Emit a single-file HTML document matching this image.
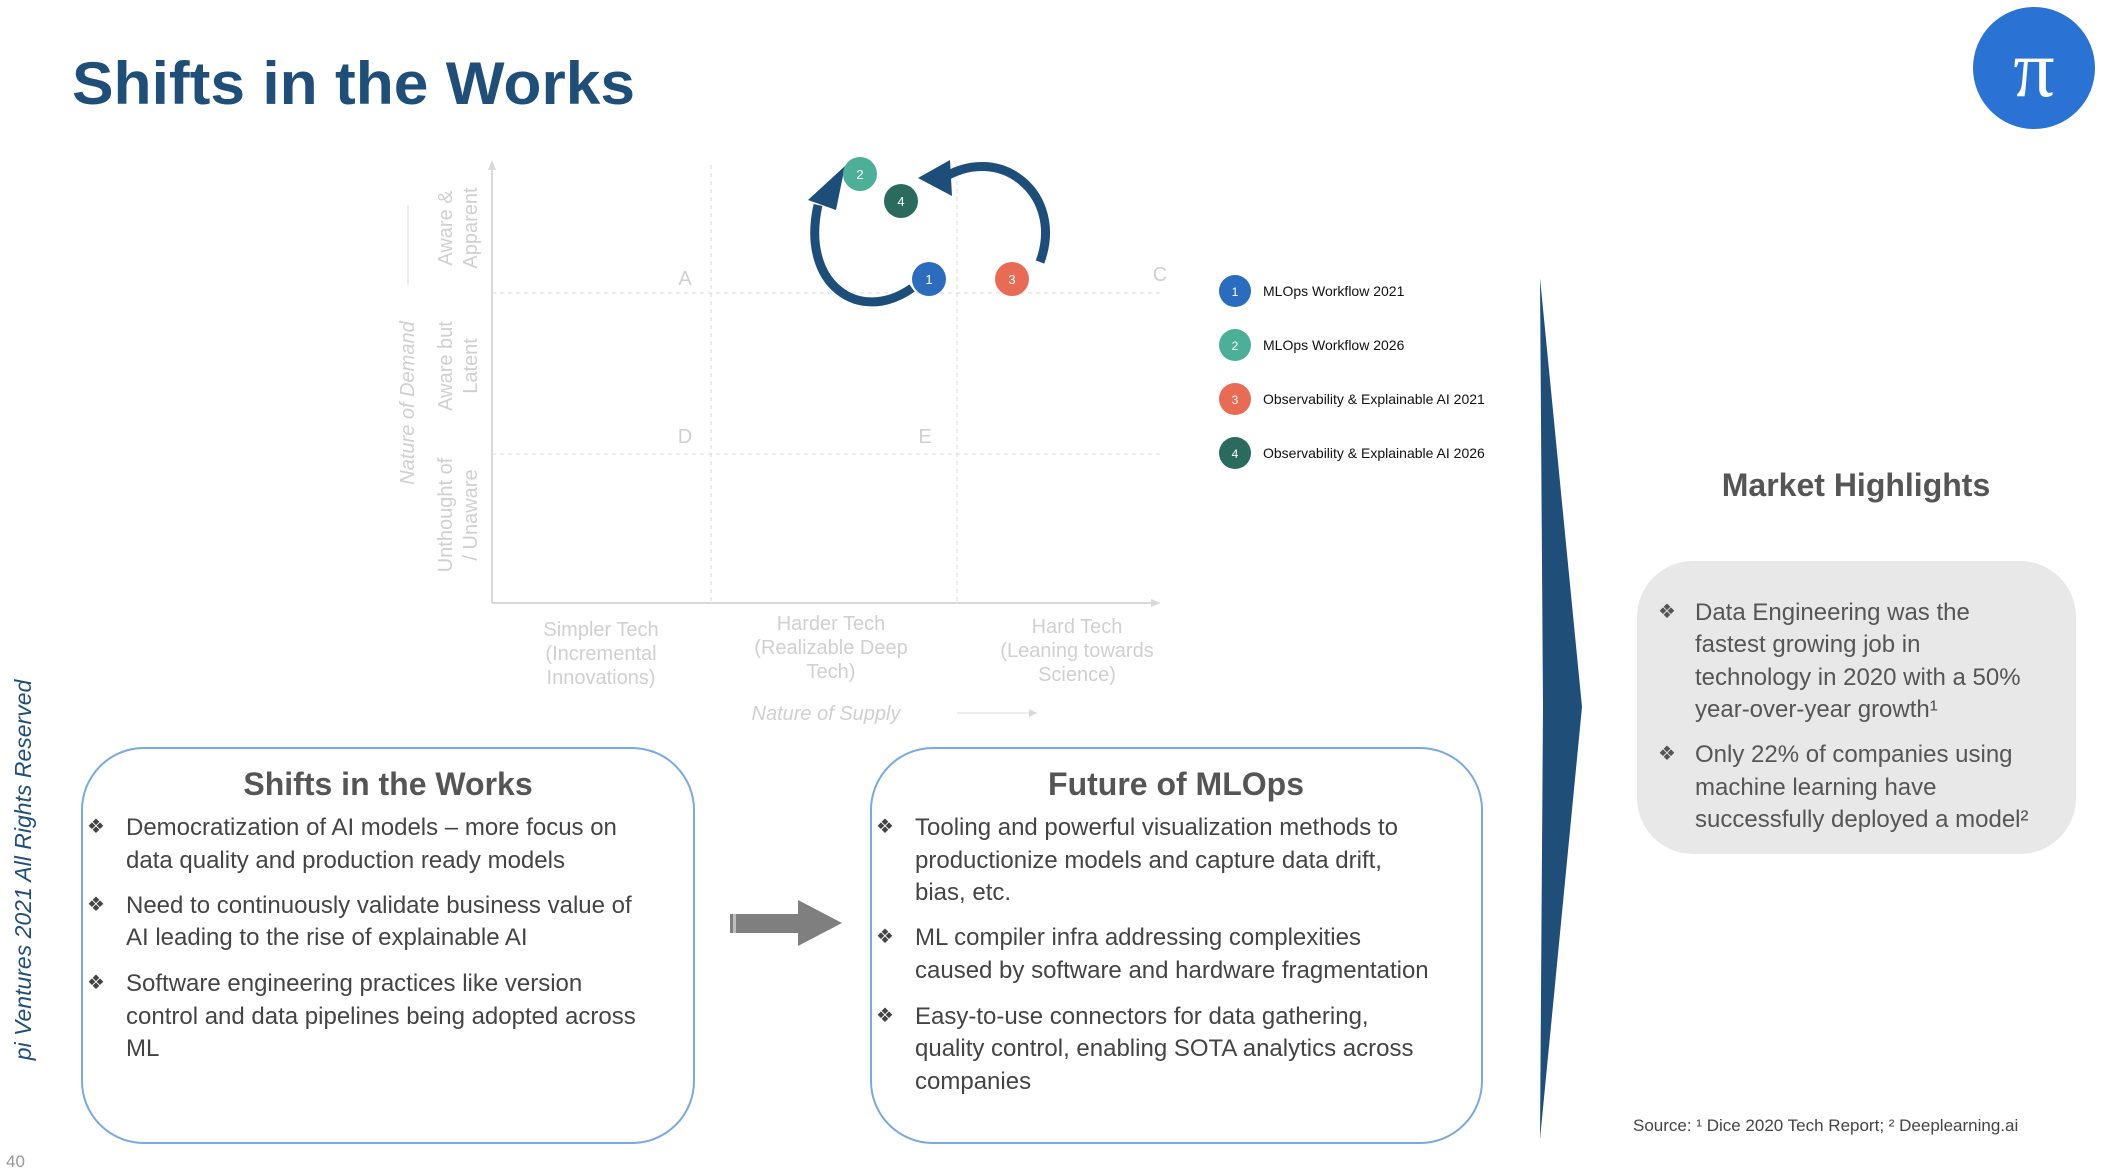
<!DOCTYPE html>
<html><head><meta charset="utf-8"><style>
html,body{margin:0;padding:0;background:#fff;}
svg{display:block;font-family:"Liberation Sans",sans-serif;}
</style></head><body>
<svg width="2106" height="1174" viewBox="0 0 2106 1174" xmlns="http://www.w3.org/2000/svg">
<text x="72" y="104" font-size="60" font-weight="bold" fill="#1f4e79" textLength="563" lengthAdjust="spacingAndGlyphs">Shifts in the Works</text>
<circle cx="2034" cy="68" r="61" fill="#2a73d5"/>
<text x="2034" y="96" font-size="82" fill="#fff" text-anchor="middle" font-family="Liberation Serif,serif">π</text>

<!-- chart axes -->
<g stroke="#d9d9d9" fill="none">
<line x1="492" y1="165" x2="492" y2="603" stroke-width="2"/>
<line x1="492" y1="603" x2="1157" y2="603" stroke-width="2"/>
<line x1="711" y1="165" x2="711" y2="603" stroke-dasharray="4,4"/>
<line x1="957" y1="165" x2="957" y2="603" stroke-dasharray="4,4"/>
<line x1="492" y1="293" x2="1160" y2="293" stroke-dasharray="4,4"/>
<line x1="492" y1="454" x2="1160" y2="454" stroke-dasharray="4,4"/>
<line x1="408" y1="285" x2="408" y2="205"/>
<line x1="957" y1="713" x2="1037" y2="713"/>
</g>
<polygon points="492,160 488,170 496,170" fill="#d9d9d9"/>
<polygon points="1161,603 1151,599 1151,607" fill="#d9d9d9"/>
<g fill="#d0d0d0" font-size="20">
<text x="685" y="285" text-anchor="middle">A</text>
<text x="1160" y="281" text-anchor="middle">C</text>
<text x="685" y="443" text-anchor="middle">D</text>
<text x="925" y="443" text-anchor="middle">E</text>
<text transform="translate(452,228) rotate(-90)" text-anchor="middle">Aware &amp;</text>
<text transform="translate(477,228) rotate(-90)" text-anchor="middle">Apparent</text>
<text transform="translate(452,366) rotate(-90)" text-anchor="middle">Aware but</text>
<text transform="translate(477,366) rotate(-90)" text-anchor="middle">Latent</text>
<text transform="translate(452,515) rotate(-90)" text-anchor="middle">Unthought of</text>
<text transform="translate(477,515) rotate(-90)" text-anchor="middle">/ Unaware</text>
<text transform="translate(414,403) rotate(-90)" text-anchor="middle" font-style="italic">Nature of Demand</text>
<text x="601" y="636" text-anchor="middle">Simpler Tech</text>
<text x="601" y="660" text-anchor="middle">(Incremental</text>
<text x="601" y="684" text-anchor="middle">Innovations)</text>
<text x="831" y="630" text-anchor="middle">Harder Tech</text>
<text x="831" y="654" text-anchor="middle">(Realizable Deep</text>
<text x="831" y="678" text-anchor="middle">Tech)</text>
<text x="1077" y="633" text-anchor="middle">Hard Tech</text>
<text x="1077" y="657" text-anchor="middle">(Leaning towards</text>
<text x="1077" y="681" text-anchor="middle">Science)</text>
<text x="826" y="720" text-anchor="middle" font-style="italic">Nature of Supply</text>
</g>
<polygon points="1037,713 1029,709 1029,717" fill="#d9d9d9"/>

<!-- cycle arrows -->
<path d="M912 288 C 860 325, 800 285, 818 205" stroke="#1d4e79" stroke-width="9" fill="none"/>
<polygon points="845,166 808,200 836,210" fill="#1d4e79"/>
<path d="M1040 262 C 1065 195, 1000 140, 940 180" stroke="#1d4e79" stroke-width="9" fill="none"/>
<polygon points="918,178 950,160 952,196" fill="#1d4e79"/>

<g font-size="13" fill="#fff" text-anchor="middle">
<circle cx="860" cy="174" r="17" fill="#4daf97"/><text x="860" y="179">2</text>
<circle cx="901" cy="201" r="17" fill="#2b6b5e"/><text x="901" y="206">4</text>
<circle cx="929" cy="279" r="17" fill="#2b6cbf"/><text x="929" y="284">1</text>
<circle cx="1012" cy="279" r="17" fill="#e96a55"/><text x="1012" y="284">3</text>
</g>
<g font-size="14" fill="#111">
<circle cx="1235" cy="291" r="16" fill="#2b6cbf"/><text x="1235" y="296" fill="#fff" font-size="12" text-anchor="middle">1</text><text x="1263" y="296">MLOps Workflow 2021</text>
<circle cx="1235" cy="345" r="16" fill="#4daf97"/><text x="1235" y="350" fill="#fff" font-size="12" text-anchor="middle">2</text><text x="1263" y="350">MLOps Workflow 2026</text>
<circle cx="1235" cy="399" r="16" fill="#e96a55"/><text x="1235" y="404" fill="#fff" font-size="12" text-anchor="middle">3</text><text x="1263" y="404">Observability &amp; Explainable AI 2021</text>
<circle cx="1235" cy="453" r="16" fill="#2b6b5e"/><text x="1235" y="458" fill="#fff" font-size="12" text-anchor="middle">4</text><text x="1263" y="458">Observability &amp; Explainable AI 2026</text>
</g>

<!-- chevron -->
<polygon points="1540,278 1582,707 1540,1139 1543,707" fill="#1f4e79"/>

<text x="1856" y="496" font-size="32" font-weight="bold" fill="#555" text-anchor="middle">Market Highlights</text>
<rect x="1637" y="561" width="439" height="293" rx="56" fill="#e8e8e8"/>
<g font-size="24" fill="#555">
<text x="1658" y="618" font-family="DejaVu Sans" font-size="20">❖</text>
<text x="1695" y="620">Data Engineering was the</text>
<text x="1695" y="652">fastest growing job in</text>
<text x="1695" y="685">technology in 2020 with a 50%</text>
<text x="1695" y="717">year-over-year growth¹</text>
<text x="1658" y="760" font-family="DejaVu Sans" font-size="20">❖</text>
<text x="1695" y="762">Only 22% of companies using</text>
<text x="1695" y="795">machine learning have</text>
<text x="1695" y="827">successfully deployed a model²</text>
</g>
<text x="1633" y="1131" font-size="17" fill="#444">Source: ¹ Dice 2020 Tech Report; ² Deeplearning.ai</text>

<!-- left box -->
<rect x="82" y="748" width="612" height="395" rx="62" fill="#fff" stroke="#7aa9e0" stroke-width="2"/>
<text x="388" y="795" font-size="32" font-weight="bold" fill="#555" text-anchor="middle">Shifts in the Works</text>
<g font-size="24" fill="#444">
<text x="87" y="833" font-family="DejaVu Sans" font-size="20">❖</text>
<text x="126" y="835">Democratization of AI models – more focus on</text>
<text x="126" y="868">data quality and production ready models</text>
<text x="87" y="911" font-family="DejaVu Sans" font-size="20">❖</text>
<text x="126" y="913">Need to continuously validate business value of</text>
<text x="126" y="945">AI leading to the rise of explainable AI</text>
<text x="87" y="989" font-family="DejaVu Sans" font-size="20">❖</text>
<text x="126" y="991">Software engineering practices like version</text>
<text x="126" y="1024">control and data pipelines being adopted across</text>
<text x="126" y="1056">ML</text>
</g>

<!-- gray arrow -->
<rect x="730" y="914" width="68" height="19" fill="#7f7f7f"/>
<rect x="733" y="914" width="3" height="19" fill="#fff" opacity="0.5"/>
<polygon points="798,900 842,923 798,946" fill="#7f7f7f"/>

<!-- right box -->
<rect x="871" y="748" width="611" height="395" rx="62" fill="#fff" stroke="#7aa9e0" stroke-width="2"/>
<text x="1176" y="795" font-size="32" font-weight="bold" fill="#555" text-anchor="middle">Future of MLOps</text>
<g font-size="24" fill="#444">
<text x="876" y="833" font-family="DejaVu Sans" font-size="20">❖</text>
<text x="915" y="835">Tooling and powerful visualization methods to</text>
<text x="915" y="868">productionize models and capture data drift,</text>
<text x="915" y="900">bias, etc.</text>
<text x="876" y="943" font-family="DejaVu Sans" font-size="20">❖</text>
<text x="915" y="945">ML compiler infra addressing complexities</text>
<text x="915" y="978">caused by software and hardware fragmentation</text>
<text x="876" y="1022" font-family="DejaVu Sans" font-size="20">❖</text>
<text x="915" y="1024">Easy-to-use connectors for data gathering,</text>
<text x="915" y="1056">quality control, enabling SOTA analytics across</text>
<text x="915" y="1089">companies</text>
</g>

<text transform="translate(31,870) rotate(-90)" font-size="23" font-style="italic" fill="#1f4e79" text-anchor="middle">pi Ventures 2021 All Rights Reserved</text>
<text x="6" y="1167" font-size="17" fill="#999">40</text>
</svg>
</body></html>
